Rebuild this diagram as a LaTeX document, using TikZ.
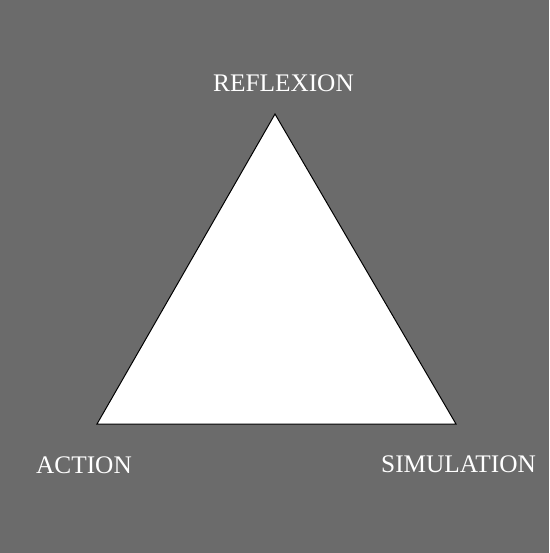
\documentclass[tikz,border=0pt]{standalone}
\usepackage{fontspec}
\setmainfont{Liberation Serif}
\definecolor{bg}{RGB}{107,107,107}
\begin{document}
\begin{tikzpicture}[x=1pt,y=-1pt,
  lbl/.style={text=white,font=\fontsize{25.3}{30}\selectfont,anchor=base,inner sep=0pt}]
\useasboundingbox (0,0) rectangle (549,553);
\fill[bg] (0,0) rectangle (549,553);
\coordinate (top) at (275,114);
\coordinate (bl) at (97,424);
\coordinate (br) at (456,424);
\draw[fill=white,draw=black,line width=1pt,line join=miter] (top) -- (br) -- (bl) -- cycle;
\node[lbl] (refl) at (283.5,92) {REFLEXION};
\node[lbl] (act) at (84,473) {ACTION};
\node[lbl] (sim) at (458.5,472) {SIMULATION};
\end{tikzpicture}
\end{document}
